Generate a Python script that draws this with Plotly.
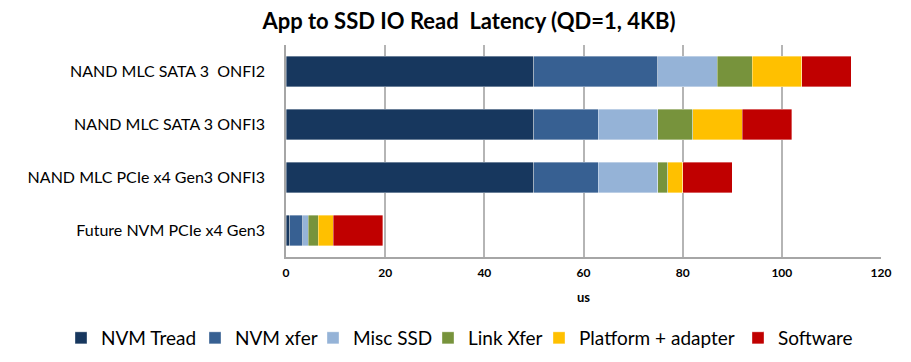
import plotly.graph_objects as go

categories = ["NAND MLC SATA 3  ONFI2", "NAND MLC SATA 3 ONFI3",
              "NAND MLC PCIe x4 Gen3 ONFI3", "Future NVM PCIe x4 Gen3"]
nvm_tread = [50, 50, 50, 0.8]
nvm_xfer = [25, 13, 13, 2.6]
misc_ssd = [12, 12, 12, 1.1]
link_xfer = [7, 7, 2, 2.0]
platform_adapter = [10, 10, 3, 3.0]
software = [10, 10, 10, 10.0]

series_names = ["NVM Tread", "NVM xfer", "Misc SSD", "Link Xfer", "Platform + adapter", "Software"]
series_values = [nvm_tread, nvm_xfer, misc_ssd, link_xfer, platform_adapter, software]
series_colors = ["#17375E", "#376092", "#95B3D7", "#77933C", "#FFC000", "#C00000"]
# left pixel of each legend entry (one legend per series to lay them out in a single row)
legend_px = [61, 195, 313, 428, 539, 738]

FONT = "Lato, 'Open Sans', sans-serif"
W, H = 911, 362

fig = go.Figure()
layout_legends = {}
for i, (name, vals, color) in enumerate(zip(series_names, series_values, series_colors)):
    lg = "legend" if i == 0 else f"legend{i + 1}"
    fig.add_trace(go.Bar(
        name=name, y=categories, x=vals, orientation="h", legend=lg,
        marker=dict(color=color, line=dict(color="rgba(255,255,255,0.6)", width=0.6)),
    ))
    layout_legends[lg] = dict(
        orientation="h", xref="container", yref="container",
        x=legend_px[i] / W, xanchor="left", y=1 - 338 / H, yanchor="middle",
        font=dict(size=19, family=FONT, color="black"), itemwidth=30,
        bgcolor="rgba(0,0,0,0)",
    )

fig.update_layout(
    barmode="stack",
    bargap=0.42,
    width=W, height=H,
    paper_bgcolor="white", plot_bgcolor="white",
    margin=dict(l=286, r=30, t=45, b=105),
    font=dict(family=FONT, color="black"),
    title=dict(text="<b>App to SSD IO Read  Latency (QD=1, 4KB)</b>",
               x=469 / W, xanchor="center", y=1 - 21 / H, yanchor="middle",
               font=dict(size=22, family=FONT, color="black")),
    showlegend=True,
    xaxis=dict(range=[0, 120], dtick=20, tick0=0,
               showgrid=True, gridcolor="#B5B5B5", gridwidth=1.5,
               showline=True, linecolor="#A6A6A6", linewidth=1.5,
               zeroline=False, ticks="", ticklabelstandoff=4,
               tickfont=dict(size=12, family=FONT, color="black", weight="bold"),
               title=dict(text="<b>us</b>", font=dict(size=13, family=FONT), standoff=14)),
    yaxis=dict(autorange="reversed", showgrid=False,
               showline=True, linecolor="#A6A6A6", linewidth=1.5,
               ticks="", ticklabelstandoff=16,
               tickfont=dict(size=16, family=FONT, color="black")),
    **layout_legends,
)

fig.write_html("out.html", config={"displayModeBar": False},
               post_script="document.body.style.margin='0';document.body.style.overflow='hidden';")
